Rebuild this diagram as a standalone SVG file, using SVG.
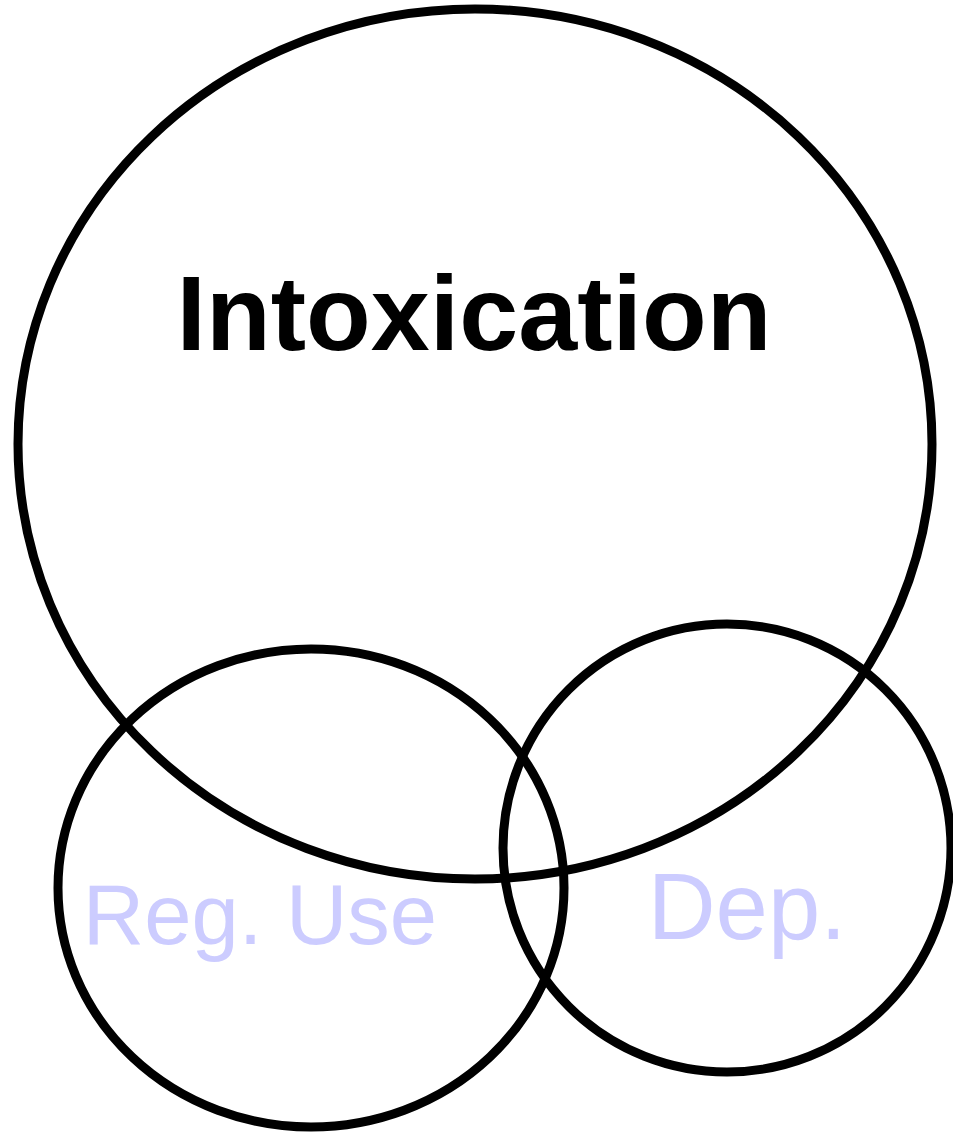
<svg xmlns="http://www.w3.org/2000/svg" width="953" height="1132" viewBox="0 0 953 1132">
<style>
.c{fill:none;stroke:#000;stroke-width:9}
.t{font-family:"Liberation Sans",Arial,sans-serif}
.b{font-weight:bold;fill:#000}
.l{fill:#ccccff}
</style>
<rect width="953" height="1132" fill="#fff"/>
<g id="intoxication">
<ellipse class="c" cx="475" cy="444" rx="457" ry="435"/>
<text class="t b" x="474" y="350" font-size="106" text-anchor="middle">Intoxication</text>
</g>
<g id="reg-use">
<ellipse class="c" cx="311" cy="888" rx="253" ry="239"/>
<text class="t l" x="260" y="944" font-size="85" text-anchor="middle">Reg. Use</text>
</g>
<g id="dep">
<ellipse class="c" cx="727" cy="848" rx="224" ry="224"/>
<text class="t l" x="747" y="939" font-size="94" text-anchor="middle">Dep.</text>
</g>
<g id="connectors"></g>
</svg>
